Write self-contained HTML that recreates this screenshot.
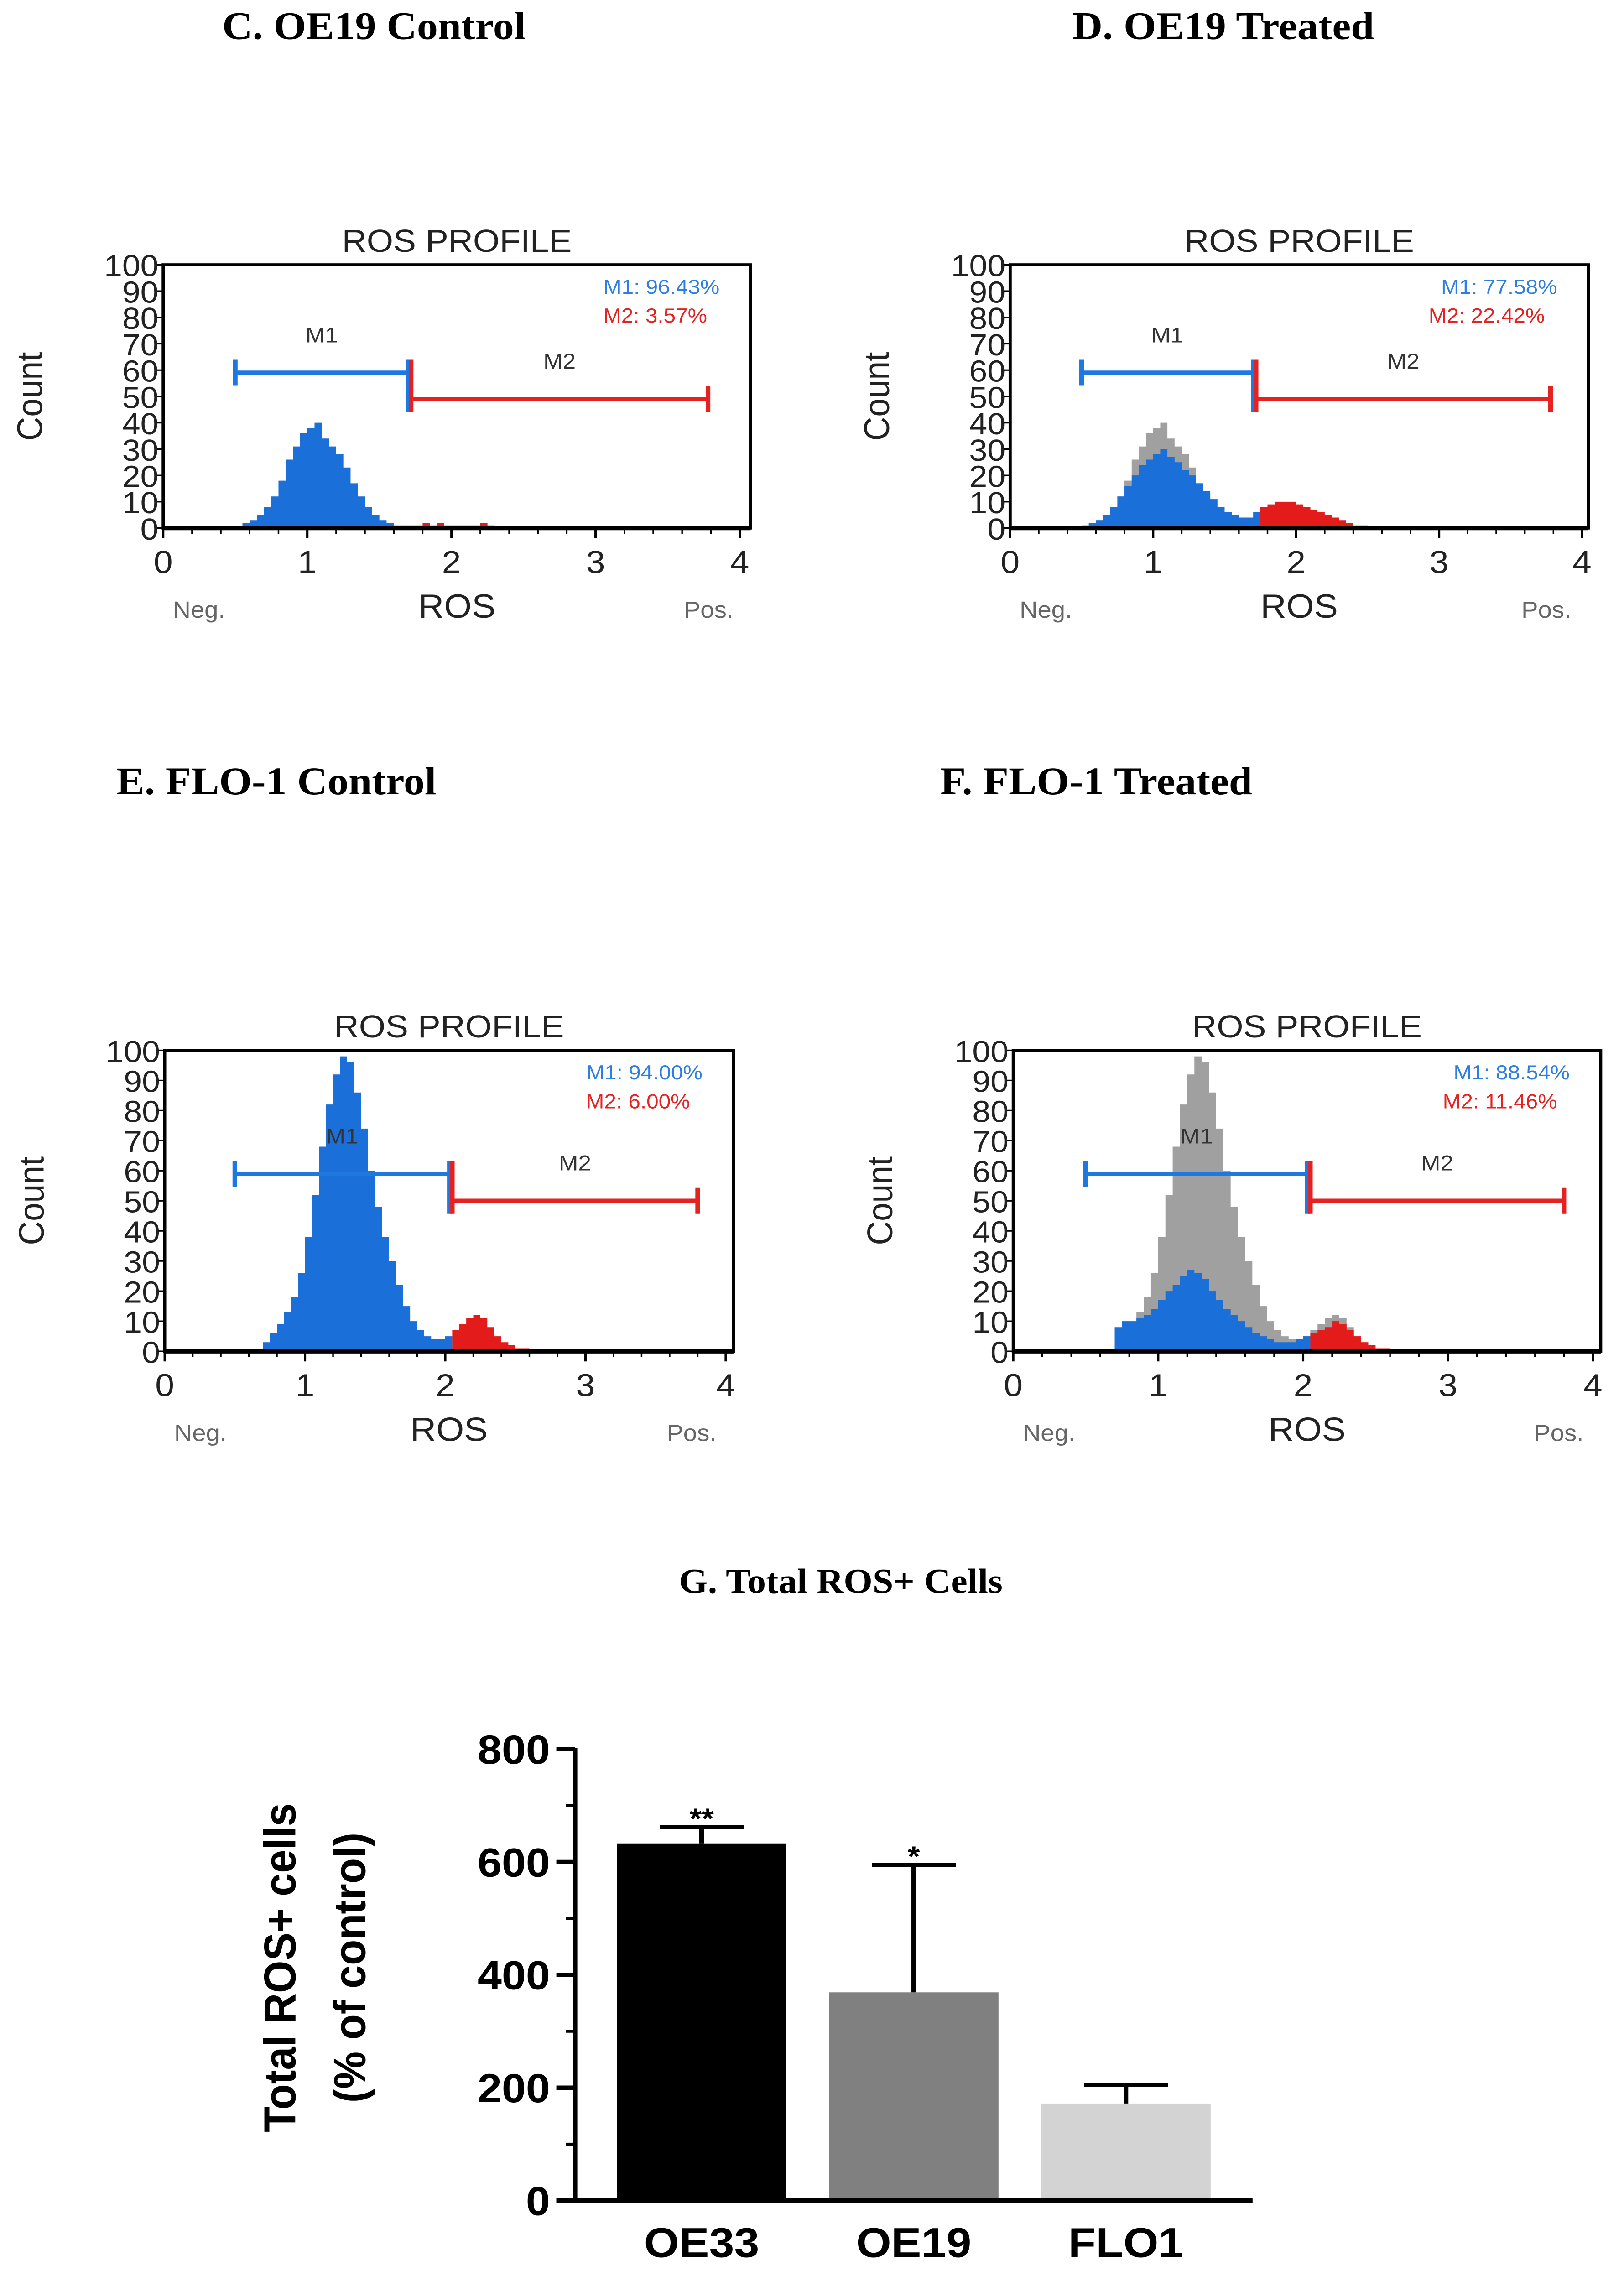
<!DOCTYPE html>
<html><head><meta charset="utf-8">
<style>html,body{margin:0;padding:0;background:#fff;width:100vw;height:100vh;overflow:hidden}svg{display:block;width:100vw;height:100vh}</style></head>
<body>
<svg id="fig" viewBox="0 0 1045 1576.6" preserveAspectRatio="none" xmlns="http://www.w3.org/2000/svg">
<g font-family="Liberation Serif, serif" font-weight="bold" font-size="27" fill="#000">
<text x="143" y="27">C.  OE19 Control</text>
<text x="690" y="27">D.  OE19 Treated</text>
<text x="75" y="549">E. FLO-1 Control</text>
<text x="605" y="549">F.  FLO-1 Treated</text>
<text x="541" y="1101" text-anchor="middle" font-size="24">G. Total ROS+ Cells</text>
</g>
<g id="hists"></g>
<g id="bars"></g>
</svg>
<script>
// Histogram data: bin starts (ROS units), bin width 0.05
const binStart = [0.50,0.55,0.60,0.65,0.70,0.75,0.80,0.85,0.90,0.95,1.00,1.05,1.10,1.15,1.20,1.25,1.30,1.35,1.40,1.45,1.50,1.55,1.60,1.65,1.70,1.75,1.80,1.85,1.90,1.95,2.00,2.05,2.10,2.15,2.20,2.25,2.30,2.35,2.40,2.45,2.50,2.55,2.60,2.65,2.70,2.75,2.80];
const ocControl = [0,2,3,5,8,12,18,26,31,36,38,40,34,31,28,23,17,12,8,5,3,2,1,1,1,1,2,1,2,1,1,1,1,1,2,1,0,0,0,0,0,0,0,0,0,0,0];
const ocTreated = [1,2,3,5,8,12,16,20,24,26,28,30,27,25,22,20,17,14,11,8,6,5,4,4,6,8,9,10,10,10,9,8,7,6,5,4,3,2,1,1,0,0,0,0,0,0,0];
const floControl = [0,0,0,0,3,6,9,13,18,26,38,52,68,82,92,98,96,86,74,60,48,38,30,22,15,10,7,5,4,4,5,7,9,11,12,11,8,5,3,2,1,1,0,0,0,0,0];
const floTreated = [0,0,0,0,8,10,10,11,12,14,17,20,22,25,27,26,24,20,17,14,12,10,8,6,5,4,3,3,3,4,5,6,7,8,10,9,7,5,3,2,1,1,0,0,0,0,0];
const yTicks = [0,10,20,30,40,50,60,70,80,90,100];
const xTicks = [0,1,2,3,4];
const panels = [
 {name:'c', box:[105,183,483,365], xr:476, title:'ROS PROFILE', m1:[0.5,1.7], m2:[1.72,3.78], m1y:59, m2y:49, main:ocControl, gray:null, s1:'M1: 96.43%', s2:'M2: 3.57%'},
 {name:'d', box:[650,183,1022,365], xr:1018, title:'ROS PROFILE', m1:[0.5,1.7], m2:[1.72,3.78], m1y:59, m2y:49, main:ocTreated, gray:ocControl, s1:'M1: 77.58%', s2:'M2: 22.42%'},
 {name:'e', box:[106,726,472,934], xr:467, title:'ROS PROFILE', m1:[0.5,2.03], m2:[2.05,3.8], m1y:59, m2y:50, main:floControl, gray:null, s1:'M1: 94.00%', s2:'M2: 6.00%'},
 {name:'f', box:[652,726,1030,934], xr:1025, title:'ROS PROFILE', m1:[0.5,2.03], m2:[2.05,3.8], m1y:59, m2y:50, main:floTreated, gray:floControl, s1:'M1: 88.54%', s2:'M2: 11.46%'}
];
const NS='http://www.w3.org/2000/svg';
function mk(tag, attrs, parent){const e=document.createElementNS(NS,tag);for(const k in attrs)e.setAttribute(k,attrs[k]);parent.appendChild(e);return e;}
const H=document.getElementById('hists');
panels.forEach(p=>{
  const [l,t,r,b]=p.box;
  const xs=v=>l+(p.xr-l)*v/4;
  const ys=v=>b-(b-t)*v/100;
  const g=mk('g',{},H);
  
  
  const T=mk('text',{x:(l+r)/2,y:t-9,'text-anchor':'middle','font-family':'Liberation Sans, sans-serif','font-size':22,fill:'#222'},g);T.textContent=p.title;
  
  
  function area(arr,lo,hi,color,nm){
    let d='';
    for(let i=0;i<binStart.length;i++){const x0=binStart[i],x1=x0+0.05;
      if(x0<lo-1e-6||x0>=hi-1e-6)continue;
      if(arr[i]<=0)continue;
      d+='M'+xs(x0)+','+b+'V'+ys(arr[i])+'H'+xs(x1)+'V'+b+'Z';}
    const pa=mk('path',{d:d,fill:color},g);
    
    
  }
  if(p.gray){area(p.gray,0,4,'#a0a0a0','control-histogram');}
  area(p.main,0,p.m2[0],'#1a6fd8','m1-histogram');
  area(p.main,p.m2[0],4,'#e31b1b','m2-histogram');
  const bx=mk('rect',{x:l,y:t,width:r-l,height:b-t,fill:'none',stroke:'#000','stroke-width':2},g);
  
  
  mk('line',{x1:l,y1:b,x2:r,y2:b,stroke:'#000','stroke-width':3},g);
  yTicks.forEach(v=>{
    const tx=mk('text',{x:l-3,y:ys(v)+8,'text-anchor':'end','font-family':'Liberation Sans, sans-serif','font-size':21,fill:'#222'},g);
    tx.textContent=v;
    
    
    mk('line',{x1:l-4,y1:ys(v),x2:l,y2:ys(v),stroke:'#000','stroke-width':1},g);
  });
  xTicks.forEach(v=>{
    mk('line',{x1:xs(v),y1:b,x2:xs(v),y2:b+7,stroke:'#000','stroke-width':1.5},g);
    const tx=mk('text',{x:xs(v),y:b+31,'text-anchor':'middle','font-family':'Liberation Sans, sans-serif','font-size':22,fill:'#222'},g);
    tx.textContent=v;
    
    
  });
  for(let v=0.2;v<4;v+=0.2){mk('line',{x1:xs(v),y1:b,x2:xs(v),y2:b+4,stroke:'#000','stroke-width':1},g);}
  const cy=(t+b)/2;
  const cnt=mk('text',{x:0,y:0,transform:'translate('+(l-78)+','+(cy)+') rotate(-90)','text-anchor':'middle','font-family':'Liberation Sans, sans-serif','font-size':23,fill:'#222'},g);cnt.textContent='Count';
  
  
  const mx=(l+r)/2;
  const xl=mk('text',{x:mx,y:b+62,'text-anchor':'middle','font-family':'Liberation Sans, sans-serif','font-size':23,fill:'#222'},g);xl.textContent='ROS';
  
  
  const ng=mk('text',{x:l+23,y:b+62,'text-anchor':'middle','font-family':'Liberation Sans, sans-serif','font-size':16,fill:'#666'},g);ng.textContent='Neg.';
  
  
  const ps=mk('text',{x:r-27,y:b+62,'text-anchor':'middle','font-family':'Liberation Sans, sans-serif','font-size':16,fill:'#666'},g);ps.textContent='Pos.';
  
  
  const g1=mk('g',{stroke:'#1e78e0','stroke-width':3},g);
  
  
  mk('line',{x1:xs(p.m1[0]),y1:ys(p.m1y),x2:xs(p.m1[1]),y2:ys(p.m1y)},g1);
  mk('line',{x1:xs(p.m1[0]),y1:ys(p.m1y)-9,x2:xs(p.m1[0]),y2:ys(p.m1y)+9},g1);
  mk('line',{x1:xs(p.m1[1]),y1:ys(p.m1y)-9,x2:xs(p.m1[1]),y2:ys(p.m2y)+9},g1);
  const g2=mk('g',{stroke:'#e52222','stroke-width':3},g);
  
  
  mk('line',{x1:xs(p.m2[0]),y1:ys(p.m2y),x2:xs(p.m2[1]),y2:ys(p.m2y)},g2);
  mk('line',{x1:xs(p.m2[0]),y1:ys(p.m1y)-9,x2:xs(p.m2[0]),y2:ys(p.m2y)+9},g2);
  mk('line',{x1:xs(p.m2[1]),y1:ys(p.m2y)-9,x2:xs(p.m2[1]),y2:ys(p.m2y)+9},g2);
  const l1=mk('text',{x:xs((p.m1[0]+p.m1[1])/2),y:ys(p.m1y)-21,'text-anchor':'middle','font-family':'Liberation Sans, sans-serif','font-size':15,fill:'#333'},g);l1.textContent='M1';
  
  
  const l2=mk('text',{x:xs((p.m2[0]+p.m2[1])/2),y:ys(p.m2y)-21,'text-anchor':'middle','font-family':'Liberation Sans, sans-serif','font-size':15,fill:'#333'},g);l2.textContent='M2';
  
  
  const s1=mk('text',{x:r-20,y:t+20,'text-anchor':'end','font-family':'Liberation Sans, sans-serif','font-size':14,fill:'#2d7ee0'},g);s1.textContent=p.s1;
  
  
  const s2=mk('text',{x:r-28,y:t+40,'text-anchor':'end','font-family':'Liberation Sans, sans-serif','font-size':14,fill:'#e52222'},g);s2.textContent=p.s2;
  
  
});

// Bar chart data
const cats = ['OE33','OE19','FLO1'];
const means = [633,369,172];
const errTop = [662,595,205];
const stars = ['**','*',''];
const colors = ['#000000','#808080','#d3d3d3'];
const barTicks = [0,200,400,600,800];
const minorTicks = [100,300,500,700];
const B=document.getElementById('bars');
const ax={l:370,r:806,t:1209,b:1521};
const yv=v=>ax.b-(ax.b-ax.t)*v/800;
const bw=109, step=136.5, first=397;
cats.forEach((c,i)=>{
  const x=first+i*step;
  const r=mk('rect',{x:x,y:yv(means[i]),width:bw,height:ax.b-yv(means[i]),fill:colors[i]},B);
  
  
  const eg=mk('g',{stroke:'#000','stroke-width':3},B);
  
  
  mk('line',{x1:x+bw/2,y1:yv(means[i]),x2:x+bw/2,y2:yv(errTop[i])},eg);
  mk('line',{x1:x+bw/2-27,y1:yv(errTop[i]),x2:x+bw/2+27,y2:yv(errTop[i])},eg);
  if(stars[i]){const s=mk('text',{x:x+bw/2,y:yv(errTop[i])+1,'text-anchor':'middle','font-family':'Liberation Sans, sans-serif','font-weight':'bold','font-size':20},B);s.textContent=stars[i];
    
    }
  const t=mk('text',{x:x+bw/2,y:1560,'text-anchor':'middle','font-family':'Liberation Sans, sans-serif','font-weight':'bold','font-size':29},B);t.textContent=c;
  
  
});
mk('line',{x1:ax.l,y1:ax.t-1,x2:ax.l,y2:ax.b+1,stroke:'#000','stroke-width':3},B);
mk('line',{x1:ax.l-12,y1:ax.b,x2:ax.r,y2:ax.b,stroke:'#000','stroke-width':3},B);
minorTicks.forEach(v=>{mk('line',{x1:ax.l-6,y1:yv(v),x2:ax.l,y2:yv(v),stroke:'#000','stroke-width':2},B);});
barTicks.forEach(v=>{
  mk('line',{x1:ax.l-12,y1:yv(v),x2:ax.l,y2:yv(v),stroke:'#000','stroke-width':3},B);
  const t=mk('text',{x:ax.l-16,y:yv(v)+10,'text-anchor':'end','font-family':'Liberation Sans, sans-serif','font-weight':'bold','font-size':28},B);t.textContent=v;
  
  
});
const yt=mk('text',{x:0,y:0,transform:'translate(190,1360) rotate(-90)','text-anchor':'middle','font-family':'Liberation Sans, sans-serif','font-weight':'bold','font-size':29},B);
yt.textContent='Total  ROS+ cells';


const yt2=mk('text',{x:0,y:0,transform:'translate(235,1360) rotate(-90)','text-anchor':'middle','font-family':'Liberation Sans, sans-serif','font-weight':'bold','font-size':29},B);
yt2.textContent='(% of control)';


</script>
</body></html>
